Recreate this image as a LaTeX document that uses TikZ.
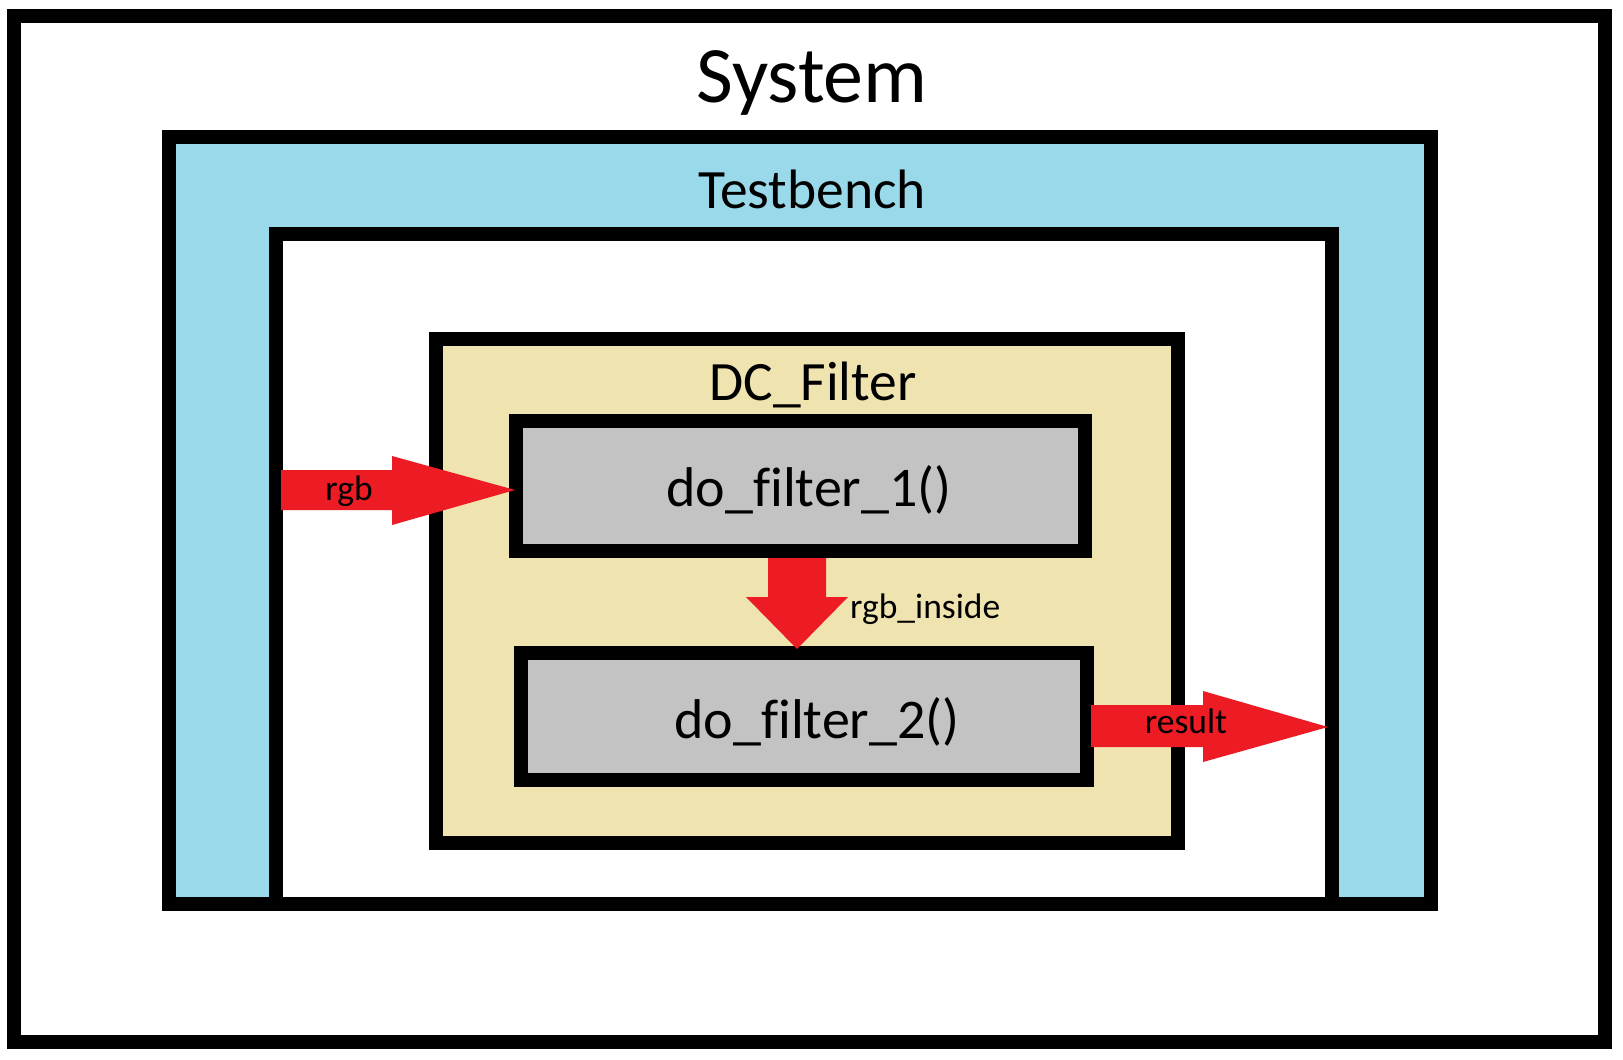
\documentclass[tikz,border=0pt]{standalone}
\usepackage{fontspec}
\setmainfont{Carlito}[Ligatures=NoCommon]
\usetikzlibrary{calc}
\definecolor{tbblue}{HTML}{99D9EA}
\definecolor{dctan}{HTML}{EFE4B0}
\definecolor{fgray}{HTML}{C3C3C3}
\definecolor{pred}{HTML}{ED1C24}
\begin{document}
\begin{tikzpicture}[x=1pt,y=-1pt,
  box/.style={draw=black,line width=14pt,inner sep=0pt,rectangle},
  blockarrow/.style={fill=pred,draw=none},
  bigtitle/.style={anchor=base,inner sep=0pt,font=\fontsize{80}{94}\selectfont},
  midtitle/.style={anchor=base,inner sep=0pt,font=\fontsize{55.5}{66}\selectfont},
  functext/.style={anchor=base,inner sep=0pt,font=\fontsize{56}{66}\selectfont},
  smalltext/.style={anchor=base,inner sep=0pt,font=\fontsize{35.5}{42}\selectfont}]
\useasboundingbox[fill=white] (0,0) rectangle (1623,1060);
% boxes
\node[box,fill=white,minimum width=1591pt,minimum height=1026pt] (system) at (809.5,529) {};
\node[box,fill=tbblue,minimum width=1262pt,minimum height=767pt] (tb) at (800,520.5) {};
\node[box,fill=white,minimum width=1056pt,minimum height=670pt] (inner) at (804,569) {};
\node[box,fill=dctan,minimum width=742pt,minimum height=504pt] (dc) at (807,591) {};
\node[box,fill=fgray,minimum width=569pt,minimum height=130pt] (df1) at (800.5,486) {};
\node[box,fill=fgray,minimum width=566pt,minimum height=127pt] (df2) at (804,716.5) {};
% titles
\node[bigtitle] (systemlbl) at (812,102) {System};
\node[midtitle] (tblbl) at (812,208) {Testbench};
\node[midtitle] (dclbl) at (813,400) {DC\_Filter};
\node[functext] (df1lbl) at (809,506) {do\_filter\_1()};
\node[functext] (df2lbl) at (817,738) {do\_filter\_2()};
% arrows
\coordinate (rgbstart) at (281,490);
\coordinate (rgbtip) at (515,490);
\fill[blockarrow] ($(rgbstart)+(0,-20)$) -- (392,470) -- (392,456) -- (rgbtip) -- (392,525) -- (392,510) -- ($(rgbstart)+(0,20)$) -- cycle;
\coordinate (insidestart) at (797,558);
\coordinate (insidetip) at (797,649);
\fill[blockarrow] (768,558) -- (826,558) -- (826,597) -- (848,597) -- (insidetip) -- (746,597) -- (768,597) -- cycle;
\coordinate (resstart) at (1091,726);
\coordinate (restip) at (1328,727);
\fill[blockarrow] (1091,705) -- (1203,705) -- (1203,691) -- (restip) -- (1203,762) -- (1203,747) -- (1091,747) -- cycle;
% arrow labels
\node[smalltext] (rgblbl) at (349,500) {rgb};
\node[smalltext,anchor=base west] (insidelbl) at (850,618) {rgb\_inside};
\node[smalltext] (reslbl) at (1186,733) {result};
\end{tikzpicture}
\end{document}
